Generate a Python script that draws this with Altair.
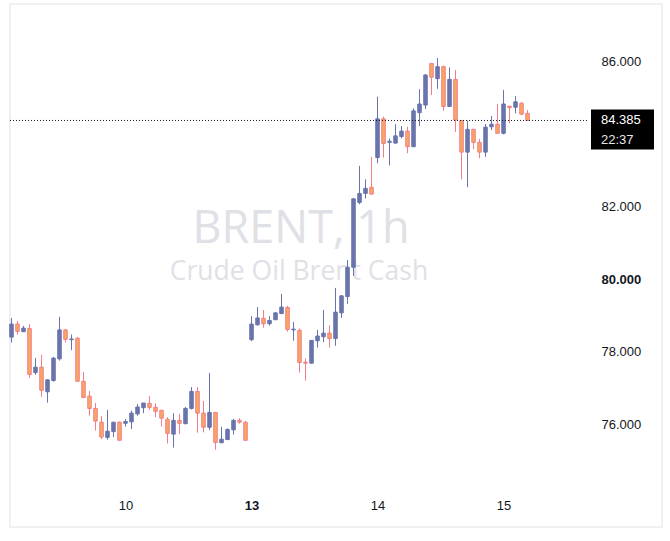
import altair as alt
import pandas as pd

# ---- data (hourly candles) ----
opens = [78.40, 78.76, 78.55, 78.64, 77.42, 77.57, 76.89, 77.20, 77.80, 78.60,
         78.33, 78.37, 77.18, 76.77, 76.43, 76.05, 75.63, 75.79, 76.05, 76.02,
         76.06, 76.28, 76.45, 76.57, 76.46, 76.38, 76.13, 75.72, 76.10, 76.01,
         76.43, 76.90, 76.30, 75.91, 76.32, 75.48, 75.57, 75.84, 76.10, 76.05,
         78.33, 78.74, 78.92, 78.77, 78.88, 79.05, 79.22, 78.60, 78.59, 77.71,
         77.68, 78.30, 78.41, 78.51, 78.36, 79.07, 79.52, 80.33, 82.12, 82.37,
         82.54, 83.36, 84.43, 83.78, 83.76, 83.94, 84.09, 83.66, 84.60, 84.81,
         85.96, 85.54, 85.87, 84.77, 85.52, 84.38, 83.51, 84.14, 83.78, 83.51,
         84.21, 84.28, 84.03, 84.78, 84.75, 84.86, 84.58]
highs = [78.93, 78.85, 78.71, 78.76, 77.82, 77.91, 77.23, 77.85, 78.96, 78.62,
         78.47, 78.40, 77.44, 76.91, 76.58, 76.22, 76.39, 76.05, 76.07, 76.14,
         76.37, 76.55, 76.58, 76.77, 76.57, 76.38, 76.19, 76.30, 76.28, 76.47,
         77.02, 77.02, 76.64, 77.41, 76.32, 75.92, 75.88, 76.14, 76.16, 76.08,
         78.98, 79.23, 79.15, 78.98, 79.09, 79.59, 79.26, 78.82, 78.64, 77.81,
         78.31, 78.60, 79.15, 78.73, 79.76, 79.56, 80.53, 82.23, 83.13, 82.76,
         83.38, 85.04, 84.49, 83.89, 84.28, 84.23, 84.21, 84.72, 85.25, 85.67,
         85.96, 86.11, 85.90, 85.85, 85.78, 84.38, 84.38, 84.14, 83.88, 84.29,
         84.51, 84.84, 85.23, 84.78, 85.06, 84.90, 84.67]
lows = [78.25, 78.47, 78.55, 77.28, 77.36, 76.75, 76.59, 77.17, 77.75, 78.25,
        78.04, 77.18, 76.73, 76.23, 75.82, 75.58, 75.57, 75.64, 75.55, 75.93,
        75.86, 76.23, 76.30, 76.40, 76.19, 75.93, 75.46, 75.35, 75.72, 75.99,
        76.40, 75.76, 75.77, 75.84, 75.29, 75.48, 75.57, 75.71, 76.01, 75.55,
        78.29, 78.72, 78.66, 78.72, 78.88, 79.05, 78.55, 78.30, 77.42, 77.20,
        77.67, 78.11, 78.26, 78.11, 78.16, 78.93, 79.32, 80.09, 82.07, 82.23,
        82.35, 83.20, 83.36, 83.14, 83.75, 83.89, 83.48, 83.66, 84.23, 84.70,
        85.09, 85.26, 84.65, 84.77, 84.07, 82.76, 82.54, 83.59, 83.34, 83.38,
        84.12, 84.03, 84.00, 84.31, 84.58, 84.53, 84.385]
closes = [78.76, 78.56, 78.65, 77.37, 77.57, 76.93, 77.22, 77.82, 78.60, 78.34,
          78.35, 77.18, 76.73, 76.43, 76.08, 75.64, 75.80, 76.05, 75.55, 76.07,
          76.30, 76.47, 76.58, 76.46, 76.35, 76.16, 75.74, 76.10, 76.02, 76.43,
          76.90, 76.30, 75.91, 76.32, 75.49, 75.58, 75.85, 76.10, 76.05, 75.55,
          78.76, 78.93, 78.77, 78.86, 79.07, 79.23, 78.61, 78.62, 77.70, 77.68,
          78.31, 78.43, 78.51, 78.36, 79.09, 79.54, 80.33, 82.22, 82.37, 82.51,
          82.35, 84.43, 83.75, 83.81, 83.96, 84.09, 83.66, 84.65, 84.84, 85.64,
          85.58, 85.87, 84.77, 85.52, 84.40, 83.51, 84.14, 83.78, 83.51, 84.20,
          84.28, 84.03, 84.84, 84.74, 84.90, 84.56, 84.385]

day_tick_index = [19, 40, 61, 82]
day_labels = ["10", "13", "14", "15"]
bold_day_index = 40
price_ticks = [76, 78, 80, 82, 86]
bold_price = 80
last_price = 84.385
last_time = "22:37"
symbol_text = "BRENT, 1h"
description_text = "Crude Oil Brent Cash"

# ---- table ----
df = pd.DataFrame({
    "i": list(range(len(opens))),
    "open": opens, "high": highs, "low": lows, "close": closes,
})
df["dir"] = ["up" if c >= o else "down" for o, c in zip(opens, closes)]

UP = "#6874ab"
DOWN_FILL = "#f8a85d"
DOWN_EDGE = "#f27c8a"
TXT = "#131722"

label_expr = " : ".join(
    f"datum.value == {v} ? '{l}'" for v, l in zip(day_tick_index, day_labels)
) + " : ''"

xscale = alt.Scale(domain=[-0.25, 96.08], nice=False, zero=False, padding=0)
yscale = alt.Scale(domain=[74.177, 87.602], nice=False, zero=False, padding=0)

xaxis = alt.Axis(
    values=day_tick_index, labelExpr=label_expr, title=None, grid=False,
    ticks=False, domain=False, labelPadding=9, labelFont="Liberation Sans",
    labelFontSize=13, labelColor=TXT, labelFlush=False, labelOverlap=False,
    labelFontWeight={"condition": {"test": f"datum.value == {bold_day_index}", "value": "bold"},
                     "value": "normal"},
)
yaxis = alt.Axis(
    orient="right", values=price_ticks, format=".3f", title=None, grid=False,
    ticks=False, domain=False, labelPadding=13, labelFont="Liberation Sans",
    labelFontSize=13, labelColor=TXT, labelFlush=False, labelOverlap=False,
    labelFontWeight={"condition": {"test": f"datum.value == {bold_price}", "value": "bold"},
                     "value": "normal"},
)

fill_scale = alt.Scale(domain=["up", "down"], range=[UP, DOWN_FILL])
edge_scale = alt.Scale(domain=["up", "down"], range=[UP, DOWN_EDGE])

one = pd.DataFrame({"k": [0]})

frame = alt.Chart(one).mark_rect(
    fillOpacity=0, stroke="#eff0f3", strokeWidth=2
).encode(x=alt.value(0), x2=alt.value(652), y=alt.value(0), y2=alt.value(523))

wm1 = alt.Chart(one).mark_text(
    font="Open Sans", fontSize=45, color="#e0e1e6", align="center", baseline="alphabetic"
).encode(x=alt.value(291), y=alt.value(239), text=alt.value(symbol_text))

wm2 = alt.Chart(one).mark_text(
    font="Open Sans", fontSize=26.5, color="#e0e1e6", align="center", baseline="alphabetic"
).encode(x=alt.value(289), y=alt.value(276), text=alt.value(description_text))

base = alt.Chart(df)

wicks = base.mark_rule(strokeWidth=1).encode(
    x=alt.X("i:Q", scale=xscale, axis=xaxis),
    y=alt.Y("low:Q", scale=yscale, axis=yaxis),
    y2="high:Q",
    color=alt.Color("dir:N", scale=edge_scale, legend=None),
)

bodies = base.mark_bar(size=3.5, strokeWidth=1).encode(
    x=alt.X("i:Q", scale=xscale, axis=xaxis),
    y=alt.Y("open:Q", scale=yscale, axis=yaxis),
    y2="close:Q",
    fill=alt.Fill("dir:N", scale=fill_scale, legend=None),
    stroke=alt.Stroke("dir:N", scale=edge_scale, legend=None),
)

last_line = alt.Chart(one).mark_rule(strokeDash=[1, 2], color=TXT, strokeWidth=1).encode(
    x=alt.value(0), x2=alt.value(578),
    y=alt.Y(datum=last_price, type="quantitative", scale=yscale, axis=yaxis),
)

tag = alt.Chart(one).mark_rect(color="#000000", yOffset=-11, y2Offset=29).encode(
    x=alt.value(581), x2=alt.value(644),
    y=alt.Y(datum=last_price, type="quantitative", scale=yscale, axis=yaxis),
    y2=alt.Y2(datum=last_price),
)

tag_price = alt.Chart(one).mark_text(
    font="Liberation Sans", fontSize=13, color="#ffffff", align="left", baseline="middle"
).encode(
    x=alt.value(591),
    y=alt.Y(datum=last_price, type="quantitative", scale=yscale, axis=yaxis),
    text=alt.value(f"{last_price:.3f}"),
)

tag_time = alt.Chart(one).mark_text(
    font="Liberation Sans", fontSize=13, color="#e6e6e6", align="left", baseline="middle", dy=20
).encode(
    x=alt.value(591),
    y=alt.Y(datum=last_price, type="quantitative", scale=yscale, axis=yaxis),
    text=alt.value(last_time),
)

chart = alt.layer(
    frame, wm1, wm2, wicks, bodies, last_line, tag, tag_price, tag_time
).properties(
    width=578, height=486,
    autosize=alt.AutoSizeParams(type="none"),
    padding={"left": 10, "top": 4, "right": 82, "bottom": 51},
    background="#ffffff",
).configure_view(stroke=None)

chart.save("out.html", embed_options={"renderer": "svg", "actions": False})
